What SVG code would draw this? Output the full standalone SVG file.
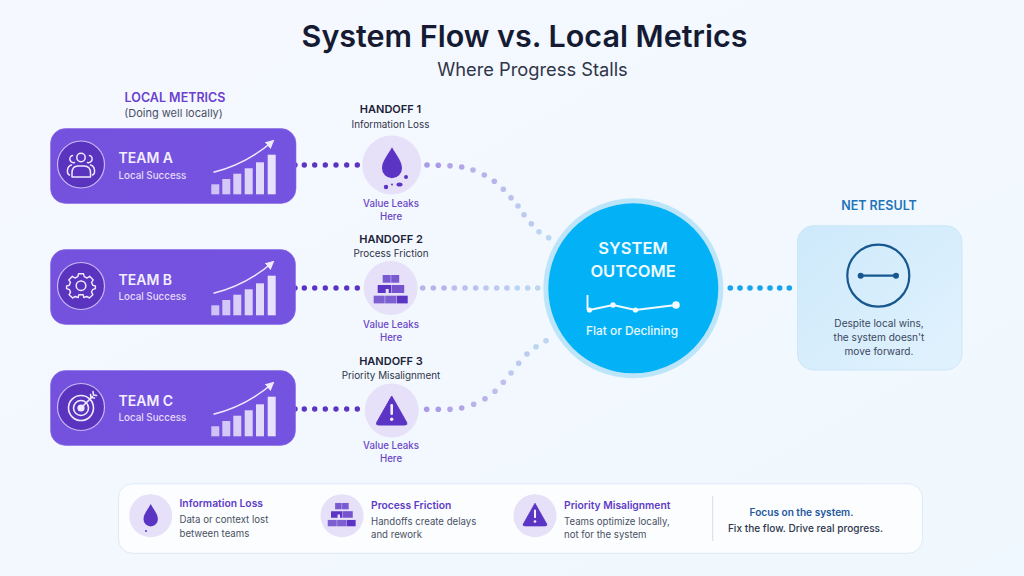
<svg xmlns="http://www.w3.org/2000/svg" xmlns:xlink="http://www.w3.org/1999/xlink" width="1024" height="576" viewBox="0 0 1024 576">
<style>
text{font-family:Inter,"Noto Sans","Liberation Sans",sans-serif}
.m{text-anchor:middle}
.hh{font-size:11px;font-weight:600;fill:#1c2238}
.hs{font-size:9.900px;fill:#2f3548}
.leak{font-size:9.700px;font-weight:500;fill:#6a46c8}
.team{font-size:14px;font-weight:600;fill:#f3effe}
.ls{font-size:9.800px;font-weight:500;fill:#e4dcfb}
.card{fill:url(#cardG);stroke:#8a6ae6;stroke-width:.6}
.ring{fill:#5a34bf;stroke:#c9b9f5;stroke-width:1.2}
.ico{fill:none;stroke:#efeafd;stroke-width:1.5;stroke-linecap:round;stroke-linejoin:round}
.halo{fill:#e6e0f8}
.pu{fill:#5b34c4}
.d{fill:#5b34c4}
.f1{fill:#ab9ae6}.f2{fill:#b3a6e8}.f3{fill:#b9b3ea}.f4{fill:#bcc0ec}.f5{fill:#bccaee}.f6{fill:#bcd6f1}
.bt{font-size:10.300px;font-weight:600;fill:#5f3cc6}
.bd{font-size:9.650px;fill:#4a5163}
.nt{font-size:10.100px;fill:#3a4660}
</style>
<defs>
<linearGradient id="bg" x1="0" y1="0" x2="1" y2="1"><stop offset="0" stop-color="#f6f8ff"/><stop offset="1" stop-color="#eff8fe"/></linearGradient>
<linearGradient id="cardG" x1="0" y1="0" x2="1" y2="0"><stop offset="0" stop-color="#7552de"/><stop offset="1" stop-color="#7453e0"/></linearGradient>
<linearGradient id="netG" x1="0" y1="0" x2="1" y2="1"><stop offset="0" stop-color="#cde9fb"/><stop offset="1" stop-color="#e1f2fd"/></linearGradient>
<marker id="ah" viewBox="0 0 10 10" refX="8" refY="5" markerWidth="5.500" markerHeight="5.500" orient="auto"><path d="M0 0L10 5L0 10Z" fill="#efeafd"/></marker>
<g id="bars">
<rect x="211.300" y="184.300" width="8" height="10" fill="#cfc3f6"/>
<rect x="222.300" y="179" width="8" height="15.300" fill="#d3c8f7"/>
<rect x="233.300" y="173.700" width="8" height="20.600" fill="#d8cef8"/>
<rect x="244.700" y="168.300" width="8" height="26" fill="#ddd4f9"/>
<rect x="256" y="162.300" width="8" height="32" fill="#e2dafa"/>
<rect x="267.700" y="154.700" width="8" height="39.600" fill="#e7e1fb"/>
<path d="M213.500 172.300C238 166 257 155 273 141" fill="none" stroke="#efeafd" stroke-width="1.600" marker-end="url(#ah)"/>
</g>
<path id="drop" d="M0-17C5-8 10-3 10 4A10 10 0 0 1-10 4C-10-3-5-8 0-17Z"/>
<g id="bricks">
<rect x="-9" y="-11" width="8" height="7.700" opacity=".78"/><rect x="-.5" y="-11" width="8" height="7.700" opacity=".78"/>
<path d="M-14-1H-.5V7H-3V3H-6V7H-14Z"/><rect x="0" y="-1" width="12.500" height="8" opacity=".82"/>
<rect x="-18" y="9.700" width="11" height="7.700" opacity=".75"/><rect x="-6.500" y="9.700" width="11" height="7.700" opacity=".75"/><rect x="5" y="9.700" width="11" height="7.700"/>
</g>
<g id="warn"><path d="M0-15L15 11.500Q16 14 13 14H-13Q-16 14-15 11.500Z" stroke="#5b34c4" stroke-width="1" stroke-linejoin="round"/><rect x="-1.300" y="-7" width="2.600" height="11" rx="1.200" fill="#f2eefc"/><circle cx="0" cy="8.300" r="1.700" fill="#f2eefc"/></g>
</defs>
<rect width="1024" height="576" fill="url(#bg)"/>

<g id="title">
<text class="m" x="524.500" y="47" fill="#151b33" style="font-size:30.500px;font-weight:600">System Flow vs. Local Metrics</text>
<text class="m" x="532.500" y="76" style="font-size:18.300px" fill="#2f3548">Where Progress Stalls</text>
</g>

<g id="connectors">
<g class="d">
<circle cx="295" cy="165" r="2.700"/><circle cx="304.300" cy="165" r="2.700"/><circle cx="314.700" cy="165" r="2.700"/><circle cx="325.300" cy="165" r="2.700"/><circle cx="336" cy="165" r="2.700"/><circle cx="346.700" cy="165" r="2.700"/><circle cx="357.300" cy="165" r="2.700"/>
<circle cx="295" cy="288" r="2.700"/><circle cx="304.300" cy="288" r="2.700"/><circle cx="314.700" cy="288" r="2.700"/><circle cx="325.300" cy="288" r="2.700"/><circle cx="336" cy="288" r="2.700"/><circle cx="346.700" cy="288" r="2.700"/><circle cx="357.300" cy="288" r="2.700"/>
<circle cx="295" cy="409" r="2.700"/><circle cx="304.300" cy="409" r="2.700"/><circle cx="314.700" cy="409" r="2.700"/><circle cx="325.300" cy="409" r="2.700"/><circle cx="336" cy="409" r="2.700"/><circle cx="346.700" cy="409" r="2.700"/><circle cx="357.300" cy="409" r="2.700"/>
</g>
<g>
<circle class="f1" cx="427" cy="165" r="2.800"/><circle class="f1" cx="438.300" cy="165.300" r="2.800"/><circle class="f2" cx="450" cy="165.700" r="2.800"/><circle class="f2" cx="461.700" cy="167" r="2.800"/><circle class="f3" cx="473" cy="170" r="2.800"/><circle class="f3" cx="484.300" cy="175" r="2.800"/><circle class="f3" cx="494.300" cy="181.300" r="2.800"/><circle class="f4" cx="503.300" cy="189.300" r="2.800"/><circle class="f4" cx="511" cy="197.700" r="2.800"/><circle class="f5" cx="518" cy="206" r="2.800"/><circle class="f5" cx="524" cy="214.700" r="2.800"/><circle class="f5" cx="531.300" cy="223.700" r="2.800"/><circle class="f6" cx="539" cy="231.700" r="2.800"/><circle class="f6" cx="548.700" cy="237.700" r="2.800"/>
<circle class="f3" cx="422.700" cy="288" r="2.800"/><circle class="f3" cx="433.300" cy="288" r="2.800"/><circle class="f3" cx="444" cy="288" r="2.800"/><circle class="f4" cx="454.300" cy="288" r="2.800"/><circle class="f4" cx="465" cy="288" r="2.800"/><circle class="f4" cx="475.700" cy="288" r="2.800"/><circle class="f5" cx="486" cy="288" r="2.800"/><circle class="f5" cx="496.700" cy="288" r="2.800"/><circle class="f5" cx="507" cy="288" r="2.800"/><circle class="f6" cx="517.300" cy="288" r="2.800"/><circle class="f6" cx="527.700" cy="288" r="2.800"/><circle class="f6" cx="537.700" cy="288" r="2.800"/>
<circle class="f1" cx="426.700" cy="409.300" r="2.800"/><circle class="f1" cx="438.300" cy="409.300" r="2.800"/><circle class="f2" cx="450" cy="409.300" r="2.800"/><circle class="f2" cx="461.700" cy="408" r="2.800"/><circle class="f3" cx="473.700" cy="404.300" r="2.800"/><circle class="f3" cx="485" cy="398.700" r="2.800"/><circle class="f4" cx="495" cy="391.300" r="2.800"/><circle class="f4" cx="503.300" cy="382.300" r="2.800"/><circle class="f5" cx="511" cy="373" r="2.800"/><circle class="f5" cx="518.700" cy="363.300" r="2.800"/><circle class="f5" cx="527" cy="354" r="2.800"/><circle class="f6" cx="536" cy="346.700" r="2.800"/><circle class="f6" cx="546" cy="340.700" r="2.800"/>
</g>
<g fill="#14a5ea">
<circle cx="730.300" cy="288" r="2.800"/><circle cx="740" cy="288" r="2.800"/><circle cx="750" cy="288" r="2.800"/><circle cx="760" cy="288" r="2.800"/><circle cx="770" cy="288" r="2.800"/><circle cx="779.700" cy="288" r="2.800"/><circle cx="789.300" cy="288" r="2.800"/>
</g>
</g>

<g id="local-metrics-heading">
<text class="m" x="175" y="102" style="font-size:12.500px;font-weight:600" fill="#6a3fd0">LOCAL METRICS</text>
<text class="m" x="173.500" y="117" style="font-size:11px" fill="#4a4f66">(Doing well locally)</text>
</g>

<g id="team-a">
<rect class="card" x="50.500" y="128.500" width="245.500" height="75" rx="15"/>
<circle class="ring" cx="81" cy="164.500" r="23.500"/>
<g class="ico"><circle cx="81" cy="157.500" r="4.200"/><path d="M72 177V173Q72 166 78 166H84Q90.500 166 90.500 173V177Z"/><path d="M74.500 162.500A3.500 3.500 0 0 1 72.500 155.500M87.500 162.500A3.500 3.500 0 0 0 89.500 155.500M69.500 175Q67 174 67.500 170Q68 166 71.500 165M92.500 175Q95 174 94.500 170Q94 166 90.500 165"/></g>
<text x="118.500" y="163.300" class="team">TEAM A</text>
<text x="118.500" y="178.700" class="ls">Local Success</text>
<use xlink:href="#bars" href="#bars"/>
</g>

<g id="team-b">
<rect class="card" x="50.500" y="249.500" width="245" height="75" rx="15"/>
<circle class="ring" cx="81" cy="286" r="23.500"/>
<g class="ico"><circle cx="81" cy="285.700" r="4.800"/><path d="M77.500 271.500H84.500L85.500 275.500L89.500 277.300L93 275L98 280L95.700 283.500L97.500 287.500L101 288.500V292L97 293.500L95.500 297L97.500 300.500L92.500 305L89 303L85 304.500L84 300.500H78L77 304.500L73 303L69.500 305L64.500 300.500L66.500 297L65 293.500L61 292V288.500L64.500 287.500L66.300 283.500L64 280L69 275L72.500 277.300L76.500 275.500Z" transform="translate(81 285.700) scale(.72) translate(-81 -288)" style="stroke-width:2"/></g>
<text x="118.500" y="285" class="team">TEAM B</text>
<text x="118.500" y="300" class="ls">Local Success</text>
<use xlink:href="#bars" href="#bars" y="121"/>
</g>

<g id="team-c">
<rect class="card" x="50.500" y="370.500" width="245" height="75" rx="15"/>
<circle class="ring" cx="81" cy="407" r="23.500"/>
<g class="ico" style="stroke-width:1.600"><circle cx="81" cy="408" r="12.500"/><circle cx="81" cy="408" r="7.500"/><circle cx="81" cy="408" r="2.800" fill="#efeafd"/><path d="M81 408L92.500 396.500M90.500 394.500L91 397.500L94.500 398M93 391.500L93.500 395L96.500 395.500"/></g>
<text x="118.500" y="405.700" class="team">TEAM C</text>
<text x="118.500" y="421" class="ls">Local Success</text>
<use xlink:href="#bars" href="#bars" y="242"/>
</g>

<g id="handoff-1">
<text class="m hh" x="390.500" y="113">HANDOFF 1</text>
<text class="m hs" x="390.500" y="128">Information Loss</text>
<circle class="halo" cx="391.700" cy="165" r="29.500"/>
<use class="pu" xlink:href="#drop" href="#drop" x="392" y="164.300"/>
<g class="pu"><circle cx="406" cy="177" r="2"/><circle cx="386" cy="187" r="2.200"/><circle cx="392" cy="184.500" r="1"/><ellipse cx="399.500" cy="184.500" rx="3" ry="2"/></g>
<text class="m leak" x="391" y="207">Value Leaks</text>
<text class="m leak" x="391" y="219.500">Here</text>
</g>

<g id="handoff-2">
<text class="m hh" x="391" y="243">HANDOFF 2</text>
<text class="m hs" x="391" y="257">Process Friction</text>
<circle class="halo" cx="390.700" cy="288" r="27"/>
<use class="pu" xlink:href="#bricks" href="#bricks" x="391.700" y="286"/>
<text class="m leak" x="391" y="327.500">Value Leaks</text>
<text class="m leak" x="391" y="340.500">Here</text>
</g>

<g id="handoff-3">
<text class="m hh" x="391" y="365">HANDOFF 3</text>
<text class="m hs" x="391" y="379">Priority Misalignment</text>
<circle class="halo" cx="391.700" cy="410.500" r="27"/>
<use class="pu" xlink:href="#warn" href="#warn" x="391.700" y="411"/>
<text class="m leak" x="391" y="449">Value Leaks</text>
<text class="m leak" x="391" y="462">Here</text>
</g>

<g id="system-outcome">
<circle cx="633.300" cy="288.300" r="90" fill="#bde5f9"/>
<circle cx="633.300" cy="288.300" r="85" fill="#03b2f6"/>
<text class="m" x="633" y="254" style="font-size:16.500px;font-weight:600" fill="#f1fbff">SYSTEM</text>
<text class="m" x="633" y="277" style="font-size:16.500px;font-weight:600" fill="#f1fbff">OUTCOME</text>
<path d="M587.500 295V310M589.500 310L613 305L635.500 310L676 305" fill="none" stroke="#f4fbff" stroke-width="1.900"/>
<g fill="#f4fbff"><circle cx="589.500" cy="310" r="2.600"/><circle cx="613" cy="305" r="2.700"/><circle cx="635.500" cy="310" r="2.600"/><circle cx="676" cy="305" r="3.800"/></g>
<text class="m" x="632" y="334.500" style="font-size:11.900px;font-weight:500" fill="#e8f8ff">Flat or Declining</text>
</g>

<g id="net-result">
<text class="m" x="879" y="210" style="font-size:12.500px;font-weight:600" fill="#1f74b8">NET RESULT</text>
<rect x="797.500" y="225.700" width="164.500" height="144.300" rx="16" fill="url(#netG)" stroke="#c5e3f7" stroke-width=".8"/>
<circle cx="878.300" cy="275.700" r="31" fill="none" stroke="#17578f" stroke-width="2.200"/>
<path d="M860.700 275.700H896" stroke="#17578f" stroke-width="2.200"/>
<circle cx="860.700" cy="275.700" r="3" fill="#17578f"/><circle cx="896" cy="275.700" r="3" fill="#17578f"/>
<text class="m nt" x="879" y="327">Despite local wins,</text>
<text class="m nt" x="879" y="341">the system doesn't</text>
<text class="m nt" x="879" y="355">move forward.</text>
</g>

<g id="legend">
<rect x="118.500" y="483.700" width="804" height="69.600" rx="14" fill="#fbfdff" stroke="#dfeaf5"/>
<path d="M712.700 496V541" stroke="#d4dbe6"/>
</g>
<g id="legend-information-loss">
<circle class="halo" cx="150.700" cy="515.700" r="21.500"/>
<use class="pu" xlink:href="#drop" href="#drop" transform="translate(150.700 516.300) scale(.72)"/>
<circle class="pu" cx="146" cy="531" r="1"/>
<text class="bt" x="179.500" y="507">Information Loss</text>
<text class="bd" x="179.500" y="523">Data or context lost</text>
<text class="bd" x="179.500" y="537">between teams</text>
</g>
<g id="legend-process-friction">
<circle class="halo" cx="342" cy="515.700" r="21.500"/>
<use class="pu" xlink:href="#bricks" href="#bricks" transform="translate(342.500 512) scale(.82)"/>
<text class="bt" x="371" y="509">Process Friction</text>
<text class="bd" x="371" y="524.500">Handoffs create delays</text>
<text class="bd" x="371" y="538">and rework</text>
</g>
<g id="legend-priority-misalignment">
<circle class="halo" cx="535" cy="515.700" r="21.500"/>
<use class="pu" xlink:href="#warn" href="#warn" transform="translate(535 515) scale(.78)"/>
<text class="bt" x="564" y="509">Priority Misalignment</text>
<text class="bd" x="564" y="524.500">Teams optimize locally,</text>
<text class="bd" x="564" y="538">not for the system</text>
</g>
<g id="legend-focus">
<text class="m" x="801.500" y="516" style="font-size:10.100px;font-weight:600" fill="#24589c">Focus on the system.</text>
<text class="m" x="805.500" y="532" style="font-size:10.100px;font-weight:500" fill="#30384c">Fix the flow. Drive real progress.</text>
</g>
</svg>
